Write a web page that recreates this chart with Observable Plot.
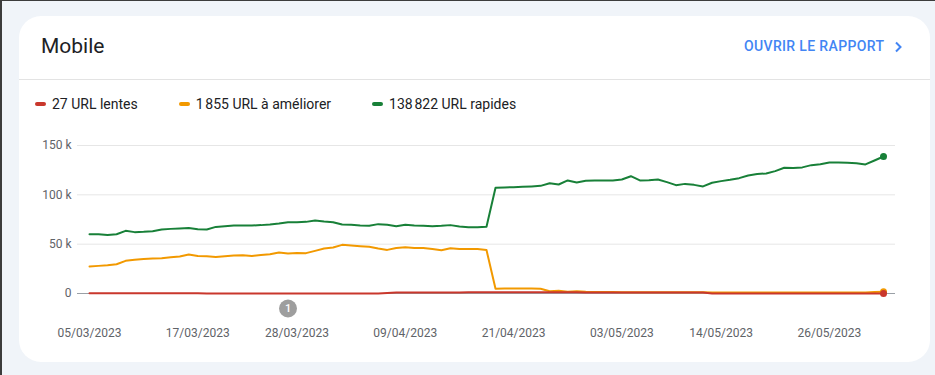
<!DOCTYPE html>
<html>
<head>
<meta charset="utf-8">
<script src="https://cdn.jsdelivr.net/npm/d3@7"></script>
<script src="https://cdn.jsdelivr.net/npm/@observablehq/plot@0.6"></script>
<style>
  html, body { margin: 0; padding: 0; }
  body { width: 935px; height: 375px; background: #f0f4f9; position: relative; overflow: hidden; font-family: Roboto, "Noto Sans", sans-serif; }
  #edgeTop { position: absolute; left: 0; top: 0; width: 935px; height: 1px; background: #3c3c3c; }
  #edgeLeft { position: absolute; left: 0; top: 0; width: 2px; height: 375px; background: #3c3c3c; }
  #card { position: absolute; left: 19px; top: 16px; width: 911px; height: 346px; background: #fff; border-radius: 22px; }
  #title { position: absolute; left: 41px; top: 36px; font-size: 21px; line-height: 1; color: #202124; white-space: nowrap; }
  #action { position: absolute; left: 744px; top: 39px; font-size: 14px; line-height: 1; font-weight: 500; letter-spacing: 0.35px; color: #4285f4; white-space: nowrap; }
  #chev { position: absolute; left: 894px; top: 41px; }
  #divider { position: absolute; left: 19px; top: 79px; width: 911px; height: 1px; background: #e3e3e3; }
  #legend { position: absolute; left: 35px; top: 97px; display: flex; align-items: center; font-size: 14px; line-height: 14px; color: #202124; white-space: nowrap; }
  .item { display: flex; align-items: center; margin-right: 41px; }
  .sw { width: 11px; height: 4px; border-radius: 2px; margin-right: 6px; }
  #chart { position: absolute; left: 0; top: 130px; }
</style>
</head>
<body>
<div id="edgeTop"></div>
<div id="edgeLeft"></div>
<div id="card"></div>
<div id="title">Mobile</div>
<div id="action">OUVRIR LE RAPPORT</div>
<svg id="chev" width="9" height="12" viewBox="0 0 9 12"><polyline points="2,1.5 6.5,6 2,10.5" fill="none" stroke="#4285f4" stroke-width="2"/></svg>
<div id="divider"></div>
<div id="legend"></div>
<div id="chart"></div>
<script>
// ---- data (daily, starting 05/03/2023) ----
const startDate = "2023-03-05";
const seriesNames = ["URL rapides", "URL à améliorer", "URL lentes"];
const seriesColors = ["#188038", "#f29900", "#c9372c"];
const rapides = [
  60100, 60100, 59300, 60100, 63500, 62200, 62500, 63200, 64900, 65500,
  65900, 66500, 65200, 64900, 67500, 68200, 68900, 68900, 68900, 69300,
  70000, 71000, 72300, 72300, 72600, 74000, 73000, 72300, 70000, 69600,
  68900, 68600, 70300, 69600, 68200, 69600, 68900, 68600, 68200, 68600,
  69300, 67900, 67200, 67200, 67700, 107100, 107500, 107800, 108100, 108500,
  109100, 111800, 110500, 114600, 112500, 114200, 114600, 114600, 114600, 115600,
  118900, 114600, 114900, 115600, 112900, 109800, 111100, 110100, 108500, 112200,
  113900, 115200, 116900, 119600, 121000, 121700, 124000, 127400, 127100, 127800,
  130100, 131100, 132800, 132800, 132400, 132100, 130800, 134800, 138822
];
const ameliorer = [
  27400, 28000, 28700, 29700, 33100, 34100, 35000, 35500, 35800, 36800,
  37500, 39500, 38100, 37800, 37100, 37800, 38500, 38800, 38100, 39100,
  39800, 41600, 40600, 41000, 40900, 43200, 45600, 46600, 49300, 48700,
  48000, 47300, 45600, 44200, 46200, 46900, 46200, 46200, 45200, 43900,
  45900, 45200, 45200, 45200, 44000, 4900, 5000, 5100, 5000, 5000,
  4900, 2300, 2700, 1700, 2300, 1700, 1500, 1400, 1400, 1300,
  1300, 1300, 1300, 1200, 1200, 1200, 1200, 1200, 1200, 900,
  900, 900, 900, 900, 900, 950, 950, 950, 950, 950,
  950, 950, 950, 950, 950, 1000, 1100, 1450, 1855
];
const lentes = [
  300, 300, 300, 300, 300, 300, 300, 300, 300, 300,
  300, 300, 300, 50, 50, 50, 50, 50, 50, 50,
  50, 50, 50, 50, 50, 50, 50, 50, 50, 50,
  50, 50, 50, 500, 1000, 1000, 1000, 1000, 1000, 1000,
  1100, 1100, 1200, 1200, 1300, 1300, 1300, 1300, 1300, 1300,
  1300, 1200, 1200, 1200, 1200, 1100, 1100, 1100, 1100, 1100,
  1100, 1100, 1100, 1100, 1000, 1000, 1000, 1000, 1000, 30,
  30, 30, 30, 30, 30, 30, 30, 30, 30, 30,
  30, 30, 30, 30, 30, 28, 28, 27, 27
];
const legendLabels = ["27 URL lentes", "1\u202f855 URL à améliorer", "138\u202f822 URL rapides"];
const legendColors = ["#c9372c", "#f29900", "#188038"];
const xTickDates = ["2023-03-05", "2023-03-17", "2023-03-28", "2023-04-09", "2023-04-21", "2023-05-03", "2023-05-14", "2023-05-26"];
const yTicks = [0, 50000, 100000, 150000];
const annotations = [{date: "2023-03-27", label: "1"}];

// ---- legend ----
const legend = document.getElementById("legend");
legendLabels.forEach((lab, i) => {
  const it = document.createElement("div");
  it.className = "item";
  const sw = document.createElement("span");
  sw.className = "sw";
  sw.style.background = legendColors[i];
  const tx = document.createElement("span");
  tx.textContent = lab;
  it.appendChild(sw); it.appendChild(tx);
  legend.appendChild(it);
});

// ---- chart ----
const t0 = new Date(startDate + "T00:00:00Z");
const dates = rapides.map((_, i) => d3.utcDay.offset(t0, i));
const allSeries = [rapides, ameliorer, lentes];
const tables = allSeries.map((vals, s) => vals.map((v, i) => ({date: dates[i], value: v, series: seriesNames[s]})));
const lastIdx = dates.length - 1;
const endPoints = allSeries.map((vals, s) => ({date: dates[lastIdx], value: vals[lastIdx], color: seriesColors[s]}));
const fmt = d3.utcFormat("%d/%m/%Y");

const chart = Plot.plot({
  width: 935,
  height: 215,
  marginLeft: 77,
  marginRight: 40,
  marginTop: 15,
  marginBottom: 52,
  x: {type: "utc", domain: [dates[0], dates[lastIdx]], insetLeft: 12, insetRight: 12},
  y: {domain: [0, 150000]},
  style: {fontFamily: "Roboto, 'Noto Sans', sans-serif", fontSize: "12px", color: "#5f6368", background: "transparent", overflow: "visible"},
  marks: [
    Plot.gridY(yTicks.filter(d => d !== 0), {stroke: "#e6e6e6", strokeOpacity: 1}),
    Plot.axisY(yTicks, {tickSize: 0, tickPadding: 6, label: null, fill: "#5f6368",
      tickFormat: d => d === 0 ? "0" : (d / 1000) + " k"}),
    Plot.axisX(xTickDates.map(s => new Date(s + "T00:00:00Z")), {tickSize: 0, tickPadding: 35, label: null, fill: "#5f6368", tickFormat: fmt}),
    Plot.ruleY([0], {stroke: "#9aa0a6", strokeWidth: 1}),
    ...tables.map((tb, s) => Plot.line(tb, {x: "date", y: "value", stroke: seriesColors[s], strokeWidth: 2, curve: "linear"})),
    Plot.dot(endPoints, {x: "date", y: "value", r: 3.5, fill: d => d.color, stroke: null}),
    Plot.dot(annotations, {x: d => new Date(d.date + "T00:00:00Z"), y: 0, dy: 15, r: 9, fill: "#9e9e9e", stroke: null}),
    Plot.text(annotations, {x: d => new Date(d.date + "T00:00:00Z"), y: 0, dy: 15, text: "label", fill: "#ffffff", fontSize: 11, fontWeight: 500})
  ]
});
document.getElementById("chart").appendChild(chart);
</script>
</body>
</html>
